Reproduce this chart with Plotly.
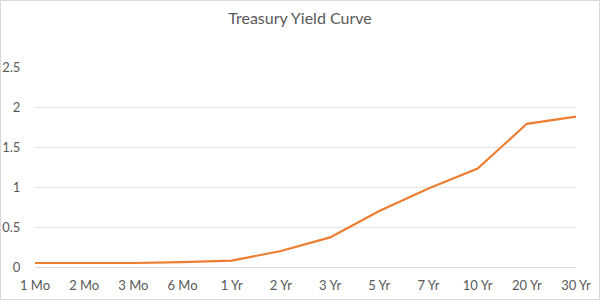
import plotly.graph_objects as go

categories = ["1 Mo", "2 Mo", "3 Mo", "6 Mo", "1 Yr", "2 Yr", "3 Yr", "5 Yr", "7 Yr", "10 Yr", "20 Yr", "30 Yr"]
yields = [0.05, 0.05, 0.05, 0.06, 0.08, 0.20, 0.37, 0.70, 0.98, 1.23, 1.79, 1.88]
y_ticks = [0, 0.5, 1, 1.5, 2, 2.5]
y_tick_labels = ["0", "0.5", "1", "1.5", "2", "2.5"]

W, H = 600, 300
L, R, T, B = 35, 24, 67, 33
pw, ph = W - L - R, H - T - B

fig = go.Figure(go.Scatter(
    x=categories, y=yields, mode="lines",
    line=dict(color="#ED7D31", width=2.2),
    hoverinfo="x+y",
))

font = "Lato, 'Open Sans', sans-serif"
fig.update_layout(
    template="none",
    width=W, height=H,
    margin=dict(l=L, r=R, t=T, b=B, pad=0, autoexpand=False),
    paper_bgcolor="white", plot_bgcolor="white",
    showlegend=False,
    title=dict(text="Treasury Yield Curve", x=0.5, xanchor="center",
               y=1 - 18 / H, yanchor="middle",
               font=dict(family=font, size=16, color="#595959")),
    font=dict(family=font, size=13, color="#595959"),
    xaxis=dict(type="category", range=[0, len(categories) - 1],
               automargin=False,
               showgrid=False, showline=True, linecolor="#D9D9D9", linewidth=1,
               ticks="outside", ticklen=6, tickcolor="rgba(0,0,0,0)",
               tickfont=dict(family=font, size=13, color="#595959"),
               zeroline=False, fixedrange=True),
    yaxis=dict(range=[0, 2.5], tickvals=y_ticks, ticktext=y_tick_labels,
               automargin=False,
               showgrid=True, gridcolor="#E3E3E3", gridwidth=1,
               showline=False, zeroline=False,
               ticks="outside", ticklen=11, tickcolor="rgba(0,0,0,0)",
               tickfont=dict(family=font, size=13, color="#595959"),
               fixedrange=True),
    shapes=[dict(type="rect", xref="paper", yref="paper",
                 x0=(0.5 - L) / pw, x1=(W - 0.5 - L) / pw,
                 y0=(H - B - (H - 0.5)) / ph, y1=(H - B - 0.5) / ph,
                 line=dict(color="#D9D9D9", width=1), layer="below")],
)

fig.write_html("out.html")
